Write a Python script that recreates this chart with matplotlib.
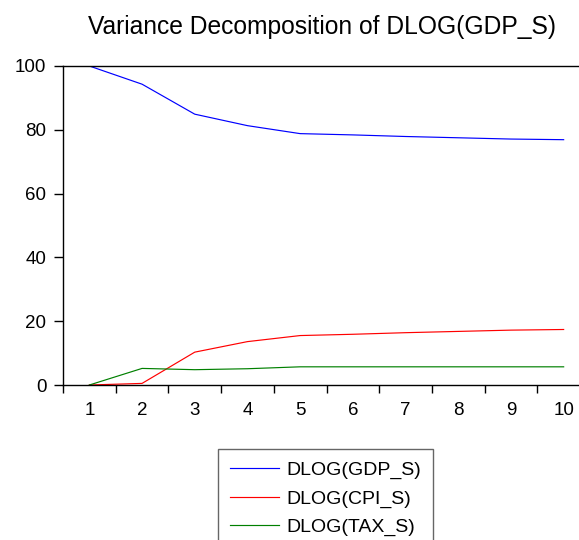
import numpy as np
import matplotlib
matplotlib.use("Agg")
import matplotlib.pyplot as plt

plt.rcParams['font.family'] = ['Liberation Sans', 'DejaVu Sans']

periods = [1, 2, 3, 4, 5, 6, 7, 8, 9, 10]
gdp = [100.0, 94.3, 84.9, 81.3, 78.8, 78.4, 77.9, 77.5, 77.1, 76.9]
cpi = [0.0, 0.5, 10.3, 13.6, 15.5, 15.9, 16.4, 16.8, 17.2, 17.4]
tax = [0.0, 5.2, 4.8, 5.1, 5.7, 5.7, 5.7, 5.7, 5.7, 5.7]

series = [
    ("DLOG(GDP_S)", gdp, "#0000ff"),
    ("DLOG(CPI_S)", cpi, "#ff0000"),
    ("DLOG(TAX_S)", tax, "#008000"),
]

W, H = 579, 540
fig = plt.figure(figsize=(W / 100, H / 100), dpi=100)
ax = fig.add_axes([63 / W, 155 / H, 527 / W, 319 / H])

for name, vals, col in series:
    ax.plot(periods, vals, color=col, lw=0.85, label=name)

ax.set_xlim(0.5, 10.5)
ax.set_ylim(0, 100)
ax.set_yticks([0, 20, 40, 60, 80, 100])

# tick marks sit between periods, labels sit on the periods
ax.set_xticks(np.arange(0.5, 10.5, 1.0))
ax.set_xticklabels([])
ax.set_xticks(periods, minor=True)
ax.set_xticklabels([str(p) for p in periods], minor=True)
ax.tick_params(axis='x', which='major', direction='out', length=6, width=1)
ax.tick_params(axis='x', which='minor', length=0, pad=12.5, labelsize=13.5)
ax.tick_params(axis='y', direction='out', length=6.5, width=1, labelsize=13.5, pad=5.5)

for s in ax.spines.values():
    s.set_linewidth(1)

fig.text(322 / W, 1 - 27 / H, "Variance Decomposition of DLOG(GDP_S)",
         ha='center', va='center', fontsize=17.7)

leg = fig.legend(loc='upper left', bbox_to_anchor=(218 / W, 1 - 449 / H),
                 fontsize=14, frameon=True, fancybox=False,
                 handlelength=2.5, handletextpad=0.4,
                 labelspacing=0.56, borderpad=0.62, borderaxespad=0)
leg.get_frame().set_edgecolor('#404040')
leg.get_frame().set_linewidth(1)

fig.savefig("out.png", dpi=100)
